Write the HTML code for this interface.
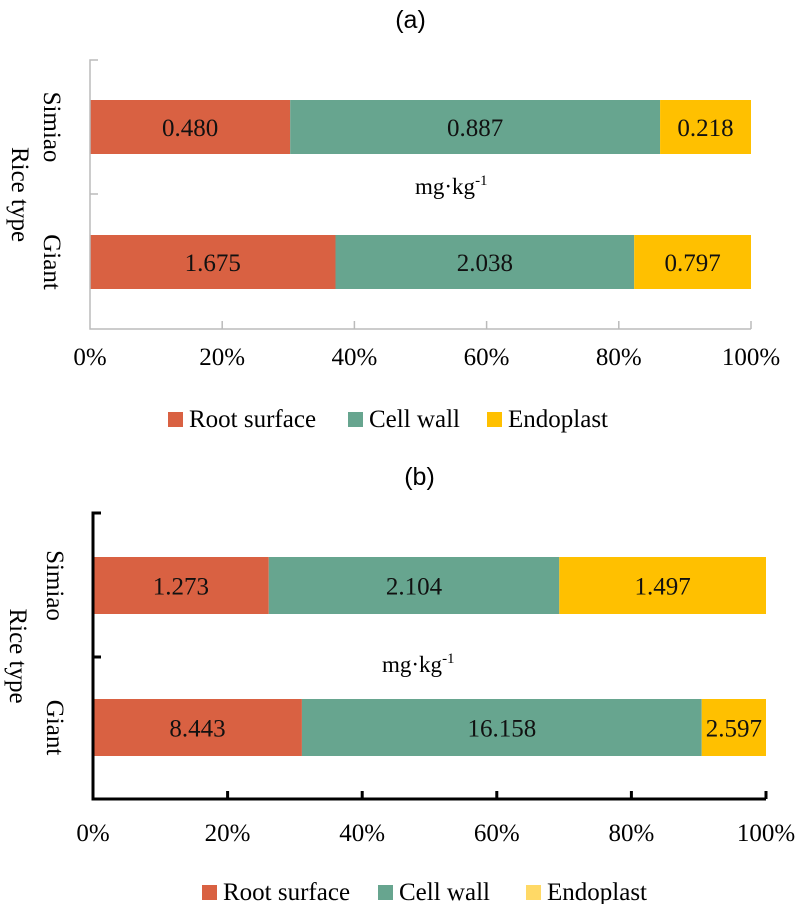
<!DOCTYPE html>
<html><head><meta charset="utf-8"><style>
body{margin:0;background:#fff;}
svg{display:block;font-family:"Liberation Serif",serif;}
</style></head><body>
<svg id="c" width="797" height="904" viewBox="0 0 797 904"></svg>
<script>
const categories=["Simiao","Giant"];
const seriesNames=["Root surface","Cell wall","Endoplast"];
const aRoot=[0.480,1.675];
const aCell=[0.887,2.038];
const aEndo=[0.218,0.797];
const bRoot=[1.273,8.443];
const bCell=[2.104,16.158];
const bEndo=[1.497,2.597];
const tickLabels=["0%","20%","40%","60%","80%","100%"];
const NS="http://www.w3.org/2000/svg";
const svg=document.getElementById('c');
const colors=["#D96142","#67A58F","#FFC000"];
function mk(t,a,p){const e=document.createElementNS(NS,t);for(const k in a)e.setAttribute(k,a[k]);(p||svg).appendChild(e);return e;}
function panel(cfg,series,axisColor,axisW,legendColors){
  const g=mk('g',{});
  
  
  const xs=v=>cfg.x0+v*(cfg.x1-cfg.x0);
  let t=mk('text',{x:(cfg.x0+cfg.x1)/2-10,y:cfg.titleY,'font-size':25,'text-anchor':'middle','font-family':'"Liberation Sans",sans-serif'},g);t.textContent='('+cfg.id+')';
  
  categories.forEach((c,i)=>{
    const tot=series[0][i]+series[1][i]+series[2][i];
    let acc=0;
    const y=cfg.barY[i];
    series.forEach((s,j)=>{
      const x=xs(acc/tot),w=xs((acc+s[i])/tot)-x;
      const r=mk('rect',{x:x,y:y,width:w,height:cfg.barH,fill:colors[j]},g);
      
      
      const lb=mk('text',{x:x+w/2,y:y+cfg.barH/2+9,'font-size':25,'text-anchor':'middle',fill:'#111'},g);
      lb.textContent=s[i].toFixed(3);
      
      acc+=s[i];
    });
    const cl=mk('text',{x:0,y:0,'font-size':25,'text-anchor':'middle',transform:`translate(${cfg.x0-46},${y+cfg.barH/2}) rotate(90)`},g);
    cl.textContent=c;
    
  });
  const ax=mk('path',{d:`M${cfg.x0+8},${cfg.yTop}H${cfg.x0}V${cfg.yBot}H${cfg.x1}`,stroke:axisColor,'stroke-width':axisW,fill:'none'},g);
  
  mk('line',{x1:cfg.x0,x2:cfg.x0+8,y1:cfg.yMid,y2:cfg.yMid,stroke:axisColor,'stroke-width':axisW},g);
  tickLabels.forEach((l,k)=>{
    const x=xs(k/5);
    if(k>0) mk('line',{x1:x,x2:x,y1:cfg.yBot,y2:cfg.yBot-8,stroke:axisColor,'stroke-width':axisW},g);
    const tl=mk('text',{x:x,y:cfg.tickY,'font-size':25,'text-anchor':'middle'},g);
    tl.textContent=l;
    
  });
  const yt=mk('text',{x:0,y:0,'font-size':25,'text-anchor':'middle',transform:`translate(${cfg.ytX},${(cfg.yTop+cfg.yBot)/2}) rotate(90)`},g);
  yt.textContent='Rice type';
  
  const u=mk('text',{x:cfg.unitX,y:cfg.unitY,'font-size':cfg.unitF},g);
  u.innerHTML='mg·kg<tspan dy="-9" font-size="15">-1</tspan>';
  
  seriesNames.forEach((n,j)=>{
    const lx=cfg.legX[j];
    const r=mk('rect',{x:lx,y:cfg.legY-15,width:15,height:15,fill:legendColors[j]},g);
    
    const tx=mk('text',{x:lx+21,y:cfg.legY,'font-size':25},g);
    tx.textContent=n;
    
  });
}
panel({id:'a',titleY:28,x0:90,x1:751,yTop:60,yBot:329,yMid:194,barY:[100,235],barH:54,tickY:365,unitX:415,unitY:194,unitF:23,ytX:12,legY:427,legX:[168,348,487]},[aRoot,aCell,aEndo],'#bbb',1.5,colors);
panel({id:'b',titleY:485,x0:93,x1:766,yTop:513,yBot:799,yMid:657,barY:[557,699],barH:57,tickY:841,unitX:382,unitY:672,unitF:23,ytX:10,legY:900,legX:[202,378,526]},[bRoot,bCell,bEndo],'#000',3,["#D96142","#67A58F","#FFD966"]);
</script>
</body></html>
